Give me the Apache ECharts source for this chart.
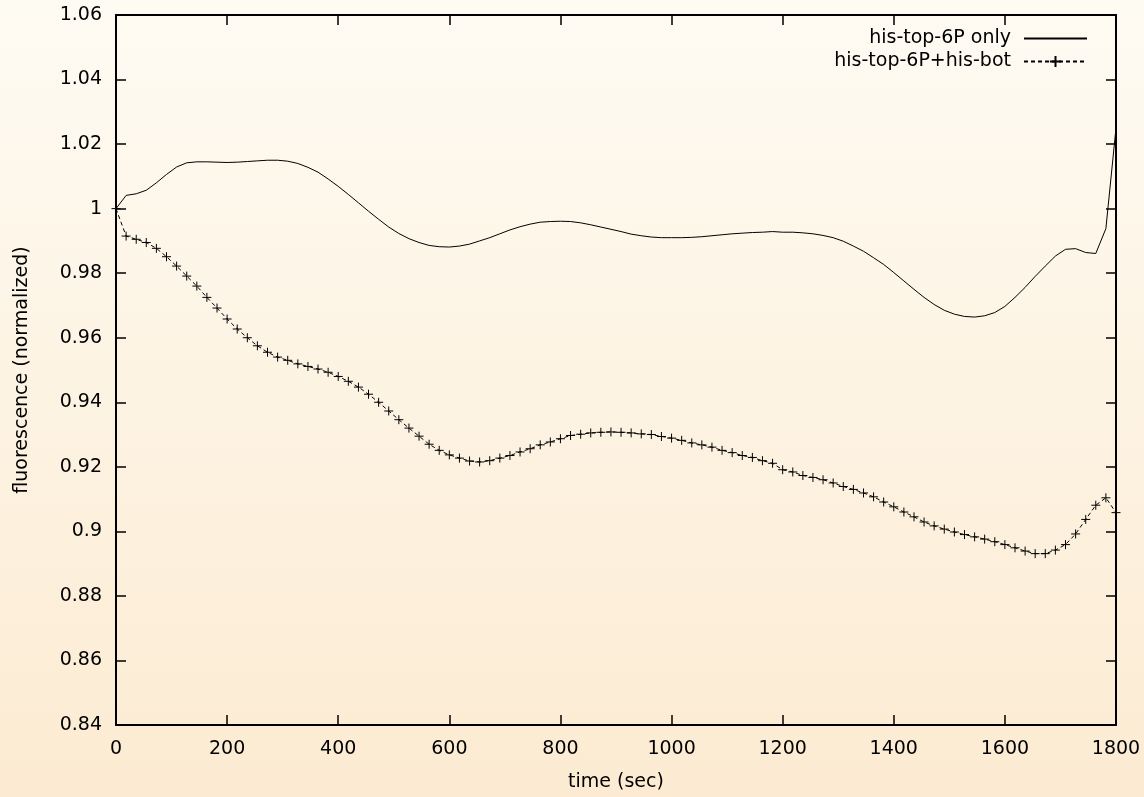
<!DOCTYPE html>
<html><head><meta charset="utf-8">
<script src="https://cdn.jsdelivr.net/npm/echarts@6/dist/echarts.min.js"></script>
<style>html,body{margin:0;padding:0;} #c{width:1144px;height:797px;}</style>
</head><body><div id="c"></div>
<script>
const times = [
0,18.2,36.4,54.5,72.7,90.9,109.1,127.3,145.5,163.6,181.8,
200,218.2,236.4,254.5,272.7,290.9,309.1,327.3,345.5,363.6,381.8,
400,418.2,436.4,454.5,472.7,490.9,509.1,527.3,545.5,563.6,581.8,
600,618.2,636.4,654.5,672.7,690.9,709.1,727.3,745.5,763.6,781.8,
800,818.2,836.4,854.5,872.7,890.9,909.1,927.3,945.5,963.6,981.8,
1000,1018.2,1036.4,1054.5,1072.7,1090.9,1109.1,1127.3,1145.5,1163.6,1181.8,
1200,1218.2,1236.4,1254.5,1272.7,1290.9,1309.1,1327.3,1345.5,1363.6,1381.8,
1400,1418.2,1436.4,1454.5,1472.7,1490.9,1509.1,1527.3,1545.5,1563.6,1581.8,
1600,1618.2,1636.4,1654.5,1672.7,1690.9,1709.1,1727.3,1745.5,1763.6,1781.8,
1800];
const topOnly = [
1.0000,1.0041,1.0046,1.0057,1.0080,1.0106,1.0129,1.0142,1.0145,1.0145,1.0144,1.0143,1.0144,1.0146,1.0148,1.0150,1.0150,1.0147,1.0140,1.0128,1.0113,1.0092,1.0069,1.0044,1.0018,0.9992,0.9967,0.9943,0.9923,0.9907,0.9895,0.9886,0.9882,0.9881,
0.9884,0.9890,0.9900,0.9910,0.9922,0.9934,0.9944,0.9952,0.9958,0.9960,0.9961,0.9960,0.9956,0.9950,0.9943,0.9936,0.9929,0.9921,0.9916,0.9912,0.9910,0.9910,0.9910,0.9911,0.9913,0.9916,0.9919,0.9922,0.9924,0.9926,0.9927,0.9929,
0.9927,0.9927,0.9925,0.9922,0.9917,0.9910,0.9899,0.9884,0.9868,0.9848,0.9827,0.9802,0.9776,0.9750,0.9725,0.9703,0.9685,0.9673,0.9666,0.9664,0.9668,0.9678,0.9697,0.9725,0.9756,0.9790,0.9822,0.9853,0.9874,0.9876,0.9864,0.9861,0.9938,1.0250];
const topBot = [
1.0000,0.9915,0.9905,0.9895,0.9877,0.9851,0.9822,0.9791,0.9760,0.9725,0.9692,0.9658,0.9627,0.9600,0.9575,0.9555,0.9540,0.9530,0.9519,0.9511,0.9503,0.9493,0.9480,0.9465,0.9447,0.9425,0.9400,0.9373,0.9346,0.9320,0.9295,0.9270,0.9251,0.9237,
0.9227,0.9218,0.9215,0.9219,0.9227,0.9235,0.9246,0.9256,0.9268,0.9277,0.9287,0.9297,0.9301,0.9305,0.9307,0.9308,0.9307,0.9305,0.9302,0.9300,0.9294,0.9289,0.9282,0.9274,0.9268,0.9261,0.9251,0.9244,0.9235,0.9229,0.9219,0.9211,
0.9191,0.9184,0.9173,0.9167,0.9160,0.9150,0.9139,0.9130,0.9119,0.9107,0.9091,0.9076,0.9060,0.9045,0.9029,0.9017,0.9007,0.8998,0.8990,0.8983,0.8976,0.8968,0.8959,0.8949,0.8939,0.8931,0.8931,0.8942,0.8959,0.8992,0.9037,0.9081,0.9104,0.9058];
const seriesNames = ['his-top-6P only', 'his-top-6P+his-bot'];
const xTitle = 'time (sec)';
const yTitle = 'fluorescence (normalized)';
const xMin = 0, xMax = 1800, xStep = 200;
const yMin = 0.84, yMax = 1.06, yStep = 0.02;

const FONT = "'DejaVu Sans', sans-serif";
const FS = 19;
const chart = echarts.init(document.getElementById('c'), null, {renderer: 'canvas'});
const axisLine = {show: true, onZero: false, lineStyle: {color: '#000', width: 2}};
const axisTick = {show: true, inside: true, length: 10, lineStyle: {color: '#000', width: 1.5}};
const lbl = {color: '#000', fontSize: FS, fontFamily: FONT};
const fmt = v => String(Math.round(v * 1000) / 1000);
function xAx(pos, main) {
  return {type: 'value', position: pos, min: xMin, max: xMax, interval: xStep,
    axisLine, axisTick, splitLine: {show: false},
    axisLabel: Object.assign({show: main, margin: 15, formatter: fmt}, lbl),
    name: main ? xTitle : '', nameLocation: 'middle', nameGap: 48,
    nameTextStyle: lbl};
}
function yAx(pos, main) {
  return {type: 'value', position: pos, min: yMin, max: yMax, interval: yStep,
    axisLine, axisTick, splitLine: {show: false},
    axisLabel: Object.assign({show: main, margin: 14, formatter: fmt}, lbl),
    name: main ? yTitle : '', nameLocation: 'middle', nameGap: 84, nameRotate: 90,
    nameTextStyle: lbl};
}
chart.setOption({
  animation: false,
  backgroundColor: new echarts.graphic.LinearGradient(0, 0, 0, 1, [
    {offset: 0, color: '#fefbf3'}, {offset: 1, color: '#fcebd2'}]),
  grid: {left: 116, right: 28, top: 15, bottom: 70, containLabel: false},
  legend: {
    orient: 'vertical', align: 'right', right: 56, top: 29, padding: 0,
    itemWidth: 63, itemHeight: 14, itemGap: 4,
    textStyle: {color: '#000', fontSize: FS, fontFamily: FONT, padding: [0, 8, 0, 0]},
    data: [{name: seriesNames[0], itemStyle: {opacity: 0}}, {name: seriesNames[1]}]
  },
  xAxis: [xAx('bottom', true), xAx('top', false)],
  yAxis: [yAx('left', true), yAx('right', false)],
  series: [
    {name: seriesNames[0], type: 'line', xAxisIndex: 0, yAxisIndex: 0,
     data: times.map((t, i) => [t, topOnly[i]]),
     symbol: 'none', clip: false, silent: true,
     lineStyle: {color: '#000', width: 1}, itemStyle: {color: '#000'}},
    {name: seriesNames[1], type: 'line', xAxisIndex: 0, yAxisIndex: 0,
     data: times.map((t, i) => [t, topBot[i]]),
     symbol: 'path://M0,5L10,5M5,0L5,10', symbolSize: 9, showSymbol: true, clip: false, silent: true,
     itemStyle: {color: '#000', borderColor: '#000', borderWidth: 1},
     lineStyle: {color: '#000', width: 1, type: [4, 3]}}
  ]
});
</script></body></html>
